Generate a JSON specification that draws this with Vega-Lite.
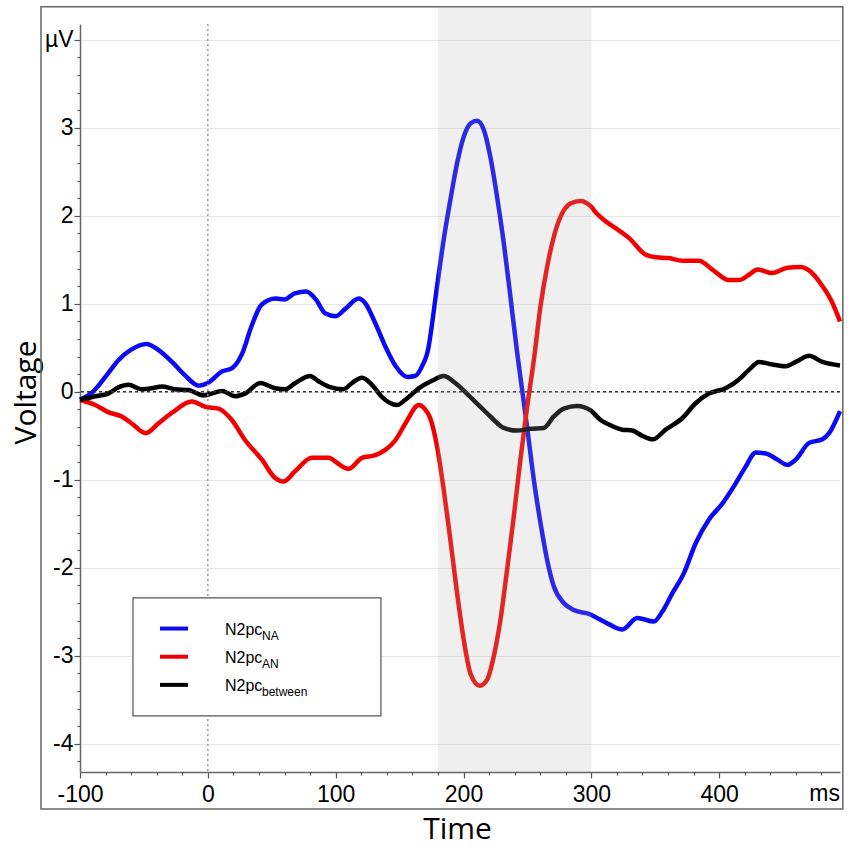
{
  "$schema": "https://vega.github.io/schema/vega-lite/v6.json",
  "width": 760,
  "height": 748,
  "autosize": {"type": "none"},
  "padding": {"left": 80, "top": 24, "right": 11, "bottom": 76},
  "background": "white",
  "config": {"view": {"stroke": null}, "font": "Liberation Sans"},
  "resolve": {"axis": {"x": "independent", "y": "independent"}},
  "datasets": {
    "erp": [
      {"series": "NA", "t": -100, "v": -0.09}, {"series": "NA", "t": -90, "v": 0.0}, {"series": "NA", "t": -78, "v": 0.21},
      {"series": "NA", "t": -70, "v": 0.36}, {"series": "NA", "t": -60, "v": 0.48}, {"series": "NA", "t": -48, "v": 0.545},
      {"series": "NA", "t": -39, "v": 0.48}, {"series": "NA", "t": -28, "v": 0.34}, {"series": "NA", "t": -18, "v": 0.19},
      {"series": "NA", "t": -7, "v": 0.07}, {"series": "NA", "t": 0, "v": 0.1}, {"series": "NA", "t": 11, "v": 0.23},
      {"series": "NA", "t": 19, "v": 0.27}, {"series": "NA", "t": 27, "v": 0.44}, {"series": "NA", "t": 34, "v": 0.74},
      {"series": "NA", "t": 42, "v": 0.99}, {"series": "NA", "t": 53, "v": 1.06}, {"series": "NA", "t": 60, "v": 1.05},
      {"series": "NA", "t": 68, "v": 1.12}, {"series": "NA", "t": 77, "v": 1.14}, {"series": "NA", "t": 84, "v": 1.06},
      {"series": "NA", "t": 92, "v": 0.89}, {"series": "NA", "t": 100, "v": 0.86}, {"series": "NA", "t": 108, "v": 0.95},
      {"series": "NA", "t": 118, "v": 1.06}, {"series": "NA", "t": 123, "v": 1.01}, {"series": "NA", "t": 131, "v": 0.78},
      {"series": "NA", "t": 139, "v": 0.51}, {"series": "NA", "t": 147, "v": 0.29}, {"series": "NA", "t": 156, "v": 0.17},
      {"series": "NA", "t": 162, "v": 0.18}, {"series": "NA", "t": 167.5, "v": 0.29}, {"series": "NA", "t": 172.7, "v": 0.51},
      {"series": "NA", "t": 174, "v": 0.63}, {"series": "NA", "t": 179.3, "v": 1.2}, {"series": "NA", "t": 184.5, "v": 1.73},
      {"series": "NA", "t": 189.7, "v": 2.18}, {"series": "NA", "t": 195, "v": 2.6}, {"series": "NA", "t": 200.2, "v": 2.9},
      {"series": "NA", "t": 205.4, "v": 3.05}, {"series": "NA", "t": 210.6, "v": 3.08}, {"series": "NA", "t": 215.8, "v": 2.98},
      {"series": "NA", "t": 221, "v": 2.67}, {"series": "NA", "t": 226.2, "v": 2.22}, {"series": "NA", "t": 231.5, "v": 1.69},
      {"series": "NA", "t": 236.7, "v": 1.08}, {"series": "NA", "t": 242, "v": 0.44}, {"series": "NA", "t": 247, "v": -0.1},
      {"series": "NA", "t": 250, "v": -0.43}, {"series": "NA", "t": 255, "v": -1.0}, {"series": "NA", "t": 260.2, "v": -1.49},
      {"series": "NA", "t": 265.4, "v": -1.91}, {"series": "NA", "t": 270.6, "v": -2.21}, {"series": "NA", "t": 278.4, "v": -2.4},
      {"series": "NA", "t": 286.3, "v": -2.48}, {"series": "NA", "t": 299.4, "v": -2.53}, {"series": "NA", "t": 303.3, "v": -2.56},
      {"series": "NA", "t": 313.7, "v": -2.64}, {"series": "NA", "t": 324.2, "v": -2.7}, {"series": "NA", "t": 335.9, "v": -2.57},
      {"series": "NA", "t": 348.9, "v": -2.61}, {"series": "NA", "t": 355.4, "v": -2.5}, {"series": "NA", "t": 363.3, "v": -2.29},
      {"series": "NA", "t": 372.4, "v": -2.06}, {"series": "NA", "t": 381.6, "v": -1.72}, {"series": "NA", "t": 392, "v": -1.45},
      {"series": "NA", "t": 402.5, "v": -1.27}, {"series": "NA", "t": 412.9, "v": -1.04}, {"series": "NA", "t": 420.7, "v": -0.85},
      {"series": "NA", "t": 428.6, "v": -0.69}, {"series": "NA", "t": 436.4, "v": -0.7}, {"series": "NA", "t": 445.5, "v": -0.77},
      {"series": "NA", "t": 453.3, "v": -0.83}, {"series": "NA", "t": 459.9, "v": -0.77}, {"series": "NA", "t": 470.3, "v": -0.58},
      {"series": "NA", "t": 480.8, "v": -0.54}, {"series": "NA", "t": 486, "v": -0.47}, {"series": "NA", "t": 494.5, "v": -0.22},

      {"series": "AN", "t": -100, "v": -0.09}, {"series": "AN", "t": -88, "v": -0.15}, {"series": "AN", "t": -78, "v": -0.23},
      {"series": "AN", "t": -67.4, "v": -0.28}, {"series": "AN", "t": -59.5, "v": -0.36}, {"series": "AN", "t": -48.6, "v": -0.47},
      {"series": "AN", "t": -38.7, "v": -0.36}, {"series": "AN", "t": -28.2, "v": -0.24}, {"series": "AN", "t": -12.5, "v": -0.11},
      {"series": "AN", "t": -2, "v": -0.17}, {"series": "AN", "t": 8.3, "v": -0.19}, {"series": "AN", "t": 18.8, "v": -0.32},
      {"series": "AN", "t": 29.2, "v": -0.55}, {"series": "AN", "t": 42.3, "v": -0.77}, {"series": "AN", "t": 52.7, "v": -0.98},
      {"series": "AN", "t": 59.2, "v": -1.02}, {"series": "AN", "t": 68.4, "v": -0.9}, {"series": "AN", "t": 81.4, "v": -0.75},
      {"series": "AN", "t": 94.4, "v": -0.75}, {"series": "AN", "t": 102.3, "v": -0.82}, {"series": "AN", "t": 110, "v": -0.875},
      {"series": "AN", "t": 120.6, "v": -0.75}, {"series": "AN", "t": 131, "v": -0.72}, {"series": "AN", "t": 138.8, "v": -0.66},
      {"series": "AN", "t": 146.7, "v": -0.55}, {"series": "AN", "t": 154.5, "v": -0.36}, {"series": "AN", "t": 165, "v": -0.15},
      {"series": "AN", "t": 170, "v": -0.2}, {"series": "AN", "t": 174, "v": -0.3}, {"series": "AN", "t": 179.3, "v": -0.62},
      {"series": "AN", "t": 184.5, "v": -1.11}, {"series": "AN", "t": 189.7, "v": -1.68}, {"series": "AN", "t": 195, "v": -2.29},
      {"series": "AN", "t": 200.2, "v": -2.82}, {"series": "AN", "t": 205.4, "v": -3.2}, {"series": "AN", "t": 212.7, "v": -3.34},
      {"series": "AN", "t": 218.5, "v": -3.27}, {"series": "AN", "t": 223.6, "v": -3.01}, {"series": "AN", "t": 228.9, "v": -2.59},
      {"series": "AN", "t": 234.1, "v": -2.02}, {"series": "AN", "t": 239.3, "v": -1.42}, {"series": "AN", "t": 244.5, "v": -0.77},
      {"series": "AN", "t": 249.8, "v": -0.17}, {"series": "AN", "t": 255, "v": 0.36}, {"series": "AN", "t": 260.2, "v": 0.97},
      {"series": "AN", "t": 265.4, "v": 1.42}, {"series": "AN", "t": 270.6, "v": 1.76}, {"series": "AN", "t": 275.9, "v": 1.99},
      {"series": "AN", "t": 283.7, "v": 2.14}, {"series": "AN", "t": 291.5, "v": 2.17}, {"series": "AN", "t": 299.4, "v": 2.11},
      {"series": "AN", "t": 304, "v": 2.03}, {"series": "AN", "t": 311, "v": 1.94}, {"series": "AN", "t": 319, "v": 1.86},
      {"series": "AN", "t": 329.4, "v": 1.75}, {"series": "AN", "t": 342.4, "v": 1.56}, {"series": "AN", "t": 350.3, "v": 1.53},
      {"series": "AN", "t": 360.7, "v": 1.52}, {"series": "AN", "t": 371.1, "v": 1.49}, {"series": "AN", "t": 384.2, "v": 1.49},
      {"series": "AN", "t": 394.6, "v": 1.39}, {"series": "AN", "t": 407.7, "v": 1.27}, {"series": "AN", "t": 415.5, "v": 1.27},
      {"series": "AN", "t": 423.3, "v": 1.33}, {"series": "AN", "t": 429.9, "v": 1.39}, {"series": "AN", "t": 441.6, "v": 1.35},
      {"series": "AN", "t": 453.3, "v": 1.41}, {"series": "AN", "t": 463.8, "v": 1.42}, {"series": "AN", "t": 470.3, "v": 1.38},
      {"series": "AN", "t": 480.8, "v": 1.2}, {"series": "AN", "t": 488.6, "v": 1.01}, {"series": "AN", "t": 494.5, "v": 0.8},

      {"series": "between", "t": -100, "v": -0.09}, {"series": "between", "t": -88, "v": -0.05}, {"series": "between", "t": -78, "v": -0.02},
      {"series": "between", "t": -70, "v": 0.05}, {"series": "between", "t": -62, "v": 0.08}, {"series": "between", "t": -52, "v": 0.03},
      {"series": "between", "t": -44, "v": 0.04}, {"series": "between", "t": -36, "v": 0.06}, {"series": "between", "t": -26, "v": 0.03},
      {"series": "between", "t": -15, "v": 0.02}, {"series": "between", "t": -3.4, "v": -0.04}, {"series": "between", "t": 3, "v": -0.02},
      {"series": "between", "t": 11, "v": 0.01}, {"series": "between", "t": 21.4, "v": -0.05}, {"series": "between", "t": 29, "v": -0.02},
      {"series": "between", "t": 41, "v": 0.1}, {"series": "between", "t": 52.7, "v": 0.04}, {"series": "between", "t": 60.5, "v": 0.03},
      {"series": "between", "t": 68.4, "v": 0.1}, {"series": "between", "t": 80, "v": 0.18}, {"series": "between", "t": 86.6, "v": 0.12},
      {"series": "between", "t": 94.4, "v": 0.06}, {"series": "between", "t": 106.2, "v": 0.03}, {"series": "between", "t": 112.7, "v": 0.1},
      {"series": "between", "t": 120.6, "v": 0.16}, {"series": "between", "t": 128.4, "v": 0.08}, {"series": "between", "t": 136.3, "v": -0.06},
      {"series": "between", "t": 148, "v": -0.15}, {"series": "between", "t": 154.5, "v": -0.09}, {"series": "between", "t": 165, "v": 0.04},
      {"series": "between", "t": 175.3, "v": 0.125}, {"series": "between", "t": 184.5, "v": 0.18}, {"series": "between", "t": 193.6, "v": 0.1},
      {"series": "between", "t": 204, "v": -0.04}, {"series": "between", "t": 213.2, "v": -0.17}, {"series": "between", "t": 221, "v": -0.28},
      {"series": "between", "t": 231.5, "v": -0.41}, {"series": "between", "t": 242, "v": -0.44}, {"series": "between", "t": 252.4, "v": -0.42},
      {"series": "between", "t": 262.8, "v": -0.41}, {"series": "between", "t": 270.6, "v": -0.28}, {"series": "between", "t": 278.4, "v": -0.19},
      {"series": "between", "t": 288.9, "v": -0.16}, {"series": "between", "t": 299.4, "v": -0.21}, {"series": "between", "t": 307.2, "v": -0.32},
      {"series": "between", "t": 315, "v": -0.38}, {"series": "between", "t": 324.2, "v": -0.43}, {"series": "between", "t": 332, "v": -0.44},
      {"series": "between", "t": 339.8, "v": -0.5}, {"series": "between", "t": 348.1, "v": -0.54}, {"series": "between", "t": 358.1, "v": -0.43},
      {"series": "between", "t": 371.1, "v": -0.3}, {"series": "between", "t": 381.6, "v": -0.13}, {"series": "between", "t": 392, "v": -0.02},
      {"series": "between", "t": 405, "v": 0.04}, {"series": "between", "t": 415.5, "v": 0.14}, {"series": "between", "t": 423.3, "v": 0.25},
      {"series": "between", "t": 431.1, "v": 0.34}, {"series": "between", "t": 441.6, "v": 0.31}, {"series": "between", "t": 452, "v": 0.29},
      {"series": "between", "t": 459.9, "v": 0.34}, {"series": "between", "t": 470.3, "v": 0.41}, {"series": "between", "t": 480.8, "v": 0.34},
      {"series": "between", "t": 494.5, "v": 0.3}
    ],
    "legend": [
      {"series": "NA", "t": -37.4, "t2": -15.5, "tx": 13.4, "v": -2.69, "label": "N2pc", "sub": "NA"},
      {"series": "AN", "t": -37.4, "t2": -15.5, "tx": 13.4, "v": -3.01, "label": "N2pc", "sub": "AN"},
      {"series": "between", "t": -37.4, "t2": -15.5, "tx": 13.4, "v": -3.33, "label": "N2pc", "sub": "between"}
    ]
  },
  "layer": [
    {
      "data": {"name": "erp"},
      "mark": {"type": "line", "strokeWidth": 4.5, "interpolate": "monotone"},
      "encoding": {
        "x": {
          "field": "t", "type": "quantitative",
          "scale": {"domain": [-100, 494.5], "nice": false, "zero": false},
          "axis": {
            "orient": "bottom",
            "title": "Time", "titleFont": "Open Sans", "titleFontSize": 30, "titleFontWeight": "normal", "titleColor": "black",
            "titleX": 377, "titleY": 66, "titleAlign": "center", "titleBaseline": "alphabetic",
            "values": [-100, 0, 100, 200, 300, 400],
            "labelExpr": "'' + datum.value",
            "labelFont": "Liberation Sans", "labelFontSize": 23, "labelColor": "black", "labelBaseline": "alphabetic", "labelPadding": 23,
            "labelOverlap": false, "labelFlush": false, "labelBound": false,
            "tickSize": 6, "tickColor": "#555555", "tickWidth": 1.2,
            "domainColor": "#666666", "domainWidth": 1.5, "grid": false
          }
        },
        "y": {
          "field": "v", "type": "quantitative",
          "scale": {"domain": [-4.32, 4.18], "nice": false, "zero": false},
          "axis": {
            "orient": "left",
            "title": "Voltage", "titleFont": "Open Sans", "titleFontSize": 30, "titleFontWeight": "normal", "titleColor": "black",
            "titleAngle": -90, "titleX": -45, "titleY": 368, "titleAlign": "center", "titleBaseline": "alphabetic",
            "values": [-4, -3, -2, -1, 0, 1, 2, 3, 4],
            "labelExpr": "datum.value == 4 ? 'µV' : '' + datum.value",
            "labelFont": "Liberation Sans", "labelFontSize": 23, "labelColor": "black", "labelPadding": 1,
            "labelOverlap": false, "labelFlush": false, "labelBound": false,
            "tickSize": 6, "tickColor": "#555555", "tickWidth": 1.2,
            "domainColor": "#666666", "domainWidth": 1.5,
            "grid": true, "gridColor": "#e6e6e6", "gridWidth": 1.2
          }
        },
        "color": {
          "field": "series", "type": "nominal", "legend": null,
          "scale": {"domain": ["NA", "AN", "between"], "range": ["#0a0af5", "#f20000", "#000000"]}
        },
        "detail": {"field": "series"}
      }
    },
    {
      "data": {"values": [{"t": -130.5, "t2": 496.7, "v": 4.375, "v2": -4.74}]},
      "mark": {"type": "rect", "fill": null, "stroke": "#666666", "strokeWidth": 1.5},
      "encoding": {
        "x": {
          "field": "t", "type": "quantitative", "scale": {"domain": [-100, 494.5], "nice": false, "zero": false},
          "axis": {
            "orient": "bottom", "title": null, "labels": false, "domain": false, "grid": false,
            "values": [-80, -60, -40, -20, 20, 40, 60, 80, 120, 140, 160, 180, 220, 240, 260, 280, 320, 340, 360, 380, 420, 440, 460, 480],
            "tickSize": 3, "tickColor": "#555555", "tickWidth": 1.2
          }
        },
        "x2": {"field": "t2"},
        "y": {
          "field": "v", "type": "quantitative", "scale": {"domain": [-4.32, 4.18], "nice": false, "zero": false},
          "axis": {
            "orient": "left", "title": null, "labels": false, "domain": false, "grid": false,
            "values": [-4.2, -3.8, -3.6, -3.4, -3.2, -2.8, -2.6, -2.4, -2.2, -1.8, -1.6, -1.4, -1.2, -0.8, -0.6, -0.4, -0.2, 0.2, 0.4, 0.6, 0.8, 1.2, 1.4, 1.6, 1.8, 2.2, 2.4, 2.6, 2.8, 3.2, 3.4, 3.6, 3.8],
            "tickSize": 3, "tickColor": "#555555", "tickWidth": 1.2
          }
        },
        "y2": {"field": "v2"}
      }
    },
    {
      "data": {"values": [{"t": 0}]},
      "mark": {"type": "rule", "color": "#999999", "strokeWidth": 1.5, "strokeDash": [2, 3]},
      "encoding": {
        "x": {"field": "t", "type": "quantitative", "axis": null, "scale": {"domain": [-100, 494.5], "nice": false, "zero": false}}
      }
    },
    {
      "data": {"values": [{"v": 0}]},
      "mark": {"type": "rule", "color": "#333333", "strokeWidth": 1.5, "strokeDash": [3, 3]},
      "encoding": {
        "y": {"field": "v", "type": "quantitative", "axis": null, "scale": {"domain": [-4.32, 4.18], "nice": false, "zero": false}}
      }
    },
    {
      "data": {"values": [{"t": 180, "t2": 300, "v": 4.375, "v2": -4.32}]},
      "mark": {"type": "rect", "fill": "#b0b0b0", "opacity": 0.2},
      "encoding": {
        "x": {"field": "t", "type": "quantitative", "axis": null, "scale": {"domain": [-100, 494.5], "nice": false, "zero": false}},
        "x2": {"field": "t2"},
        "y": {"field": "v", "type": "quantitative", "axis": null, "scale": {"domain": [-4.32, 4.18], "nice": false, "zero": false}},
        "y2": {"field": "v2"}
      }
    },
    {
      "data": {"values": [{"t": -58.55, "t2": 135.4, "v": -2.341, "v2": -3.682}]},
      "mark": {"type": "rect", "fill": "white", "stroke": "#555555", "strokeWidth": 1.2},
      "encoding": {
        "x": {"field": "t", "type": "quantitative", "axis": null, "scale": {"domain": [-100, 494.5], "nice": false, "zero": false}},
        "x2": {"field": "t2"},
        "y": {"field": "v", "type": "quantitative", "axis": null, "scale": {"domain": [-4.32, 4.18], "nice": false, "zero": false}},
        "y2": {"field": "v2"}
      }
    },
    {
      "data": {"name": "legend"},
      "mark": {"type": "rule", "strokeWidth": 4},
      "encoding": {
        "x": {"field": "t", "type": "quantitative", "axis": null, "scale": {"domain": [-100, 494.5], "nice": false, "zero": false}},
        "x2": {"field": "t2"},
        "y": {"field": "v", "type": "quantitative", "axis": null, "scale": {"domain": [-4.32, 4.18], "nice": false, "zero": false}},
        "color": {"field": "series", "type": "nominal", "legend": null, "scale": {"domain": ["NA", "AN", "between"], "range": ["#0a0af5", "#f20000", "#000000"]}}
      }
    },
    {
      "data": {"name": "legend"},
      "mark": {"type": "text", "align": "left", "baseline": "middle", "font": "Liberation Sans", "fontSize": 16, "color": "black", "dy": 1},
      "encoding": {
        "x": {"field": "tx", "type": "quantitative", "axis": null, "scale": {"domain": [-100, 494.5], "nice": false, "zero": false}},
        "y": {"field": "v", "type": "quantitative", "axis": null, "scale": {"domain": [-4.32, 4.18], "nice": false, "zero": false}},
        "text": {"field": "label"}
      }
    },
    {
      "data": {"name": "legend"},
      "mark": {"type": "text", "align": "left", "baseline": "middle", "font": "Liberation Sans", "fontSize": 12, "color": "black", "dx": 37, "dy": 7},
      "encoding": {
        "x": {"field": "tx", "type": "quantitative", "axis": null, "scale": {"domain": [-100, 494.5], "nice": false, "zero": false}},
        "y": {"field": "v", "type": "quantitative", "axis": null, "scale": {"domain": [-4.32, 4.18], "nice": false, "zero": false}},
        "text": {"field": "sub"}
      }
    },
    {
      "data": {"values": [{"t": 494.5, "v": -4.32, "label": "ms"}]},
      "mark": {"type": "text", "align": "right", "baseline": "alphabetic", "font": "Liberation Sans", "fontSize": 23, "color": "black", "dy": 29},
      "encoding": {
        "x": {"field": "t", "type": "quantitative", "axis": null, "scale": {"domain": [-100, 494.5], "nice": false, "zero": false}},
        "y": {"field": "v", "type": "quantitative", "axis": null, "scale": {"domain": [-4.32, 4.18], "nice": false, "zero": false}},
        "text": {"field": "label"}
      }
    }
  ]
}
